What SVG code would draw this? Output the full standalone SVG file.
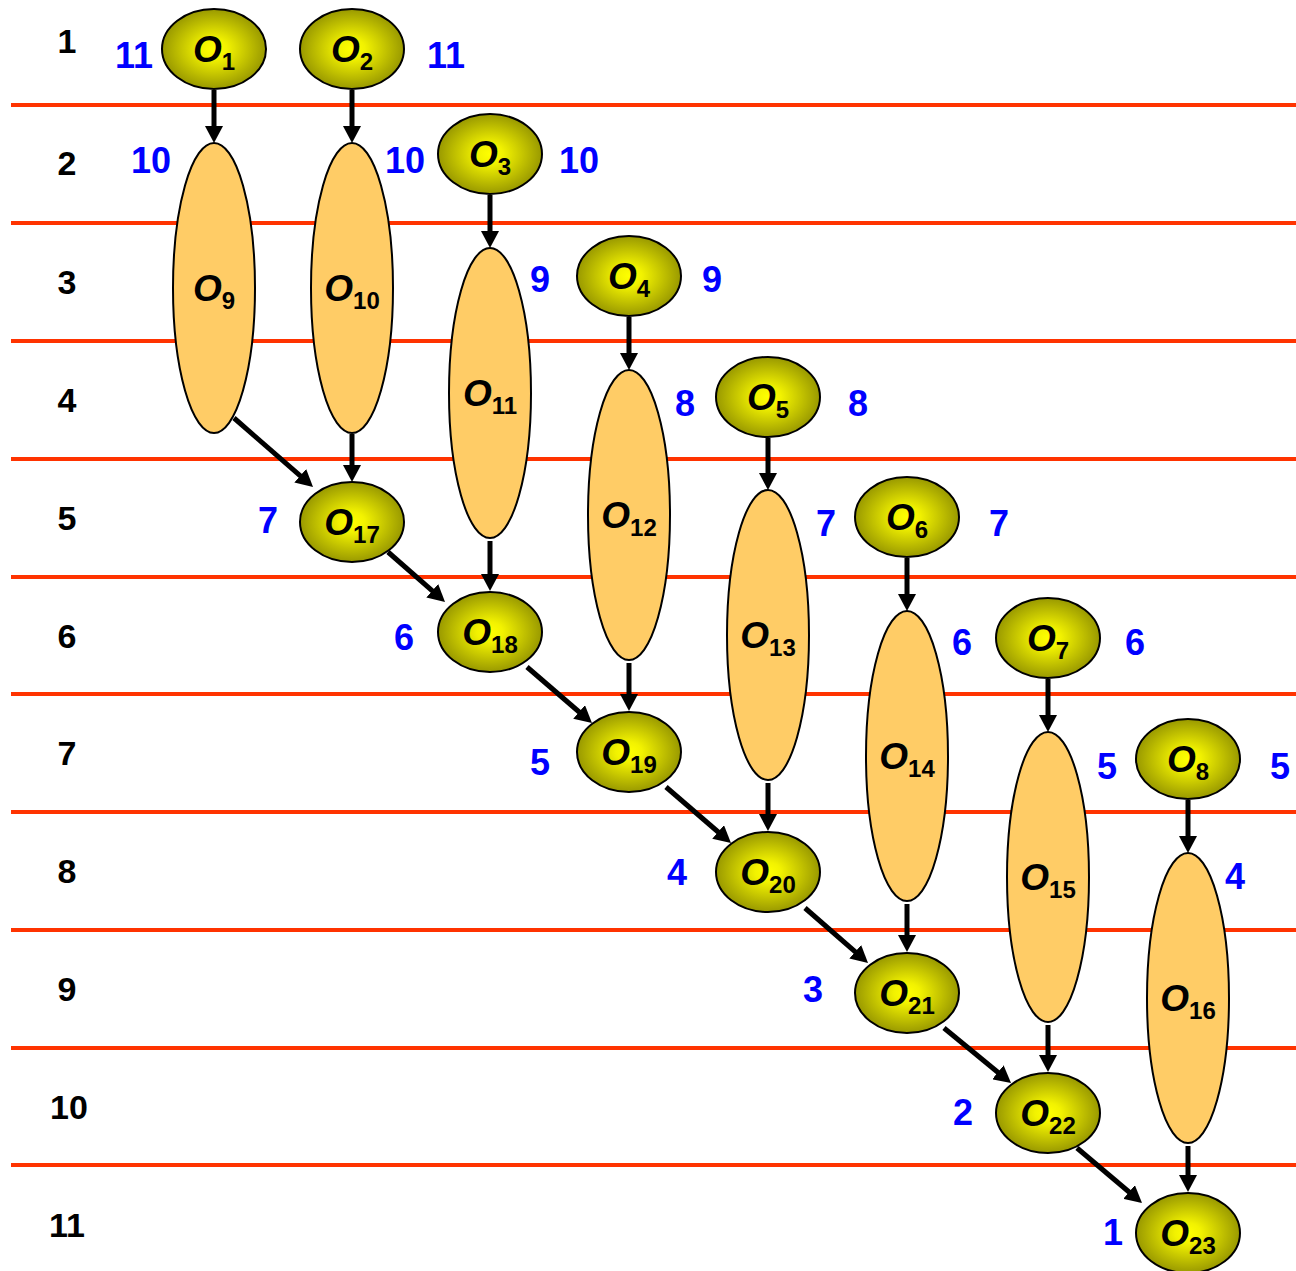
<svg xmlns="http://www.w3.org/2000/svg" width="1296" height="1271" viewBox="0 0 1296 1271">
<style>
.row{stroke:#ff3300;stroke-width:4}
.rn{font-family:"Liberation Sans",Arial,sans-serif;font-weight:bold;font-size:34px;fill:#000;text-anchor:middle}
.bl{font-family:"Liberation Sans",Arial,sans-serif;font-weight:bold;font-size:36px;fill:#0000ff;text-anchor:middle}
.sm{fill:url(#g);stroke:#000;stroke-width:2}
.big{fill:#ffcc66;stroke:#000;stroke-width:2}
.lbl{font-family:"Liberation Sans",Arial,sans-serif;font-weight:bold;font-size:37px;fill:#000;text-anchor:middle}
.o{font-style:italic}
.sub{font-size:24px}
.e{stroke:#000;stroke-width:5;fill:none;marker-end:url(#ah)}
</style>
<defs>
<radialGradient id="g" cx="50%" cy="50%" r="50%">
<stop offset="0" stop-color="#ffff00"/>
<stop offset="0.25" stop-color="#f2f200"/>
<stop offset="1" stop-color="#999900"/>
</radialGradient>
<marker id="ah" markerUnits="userSpaceOnUse" markerWidth="18" markerHeight="18" refX="7" refY="9" orient="auto">
<path d="M0,0 L17,9 L0,18 z" fill="#000"/>
</marker>
</defs>
<rect width="1296" height="1271" fill="#fff"/>
<g id="rows">
<line class="row" x1="11" y1="105" x2="1296" y2="105"/>
<line class="row" x1="11" y1="223" x2="1296" y2="223"/>
<line class="row" x1="11" y1="341" x2="1296" y2="341"/>
<line class="row" x1="11" y1="459" x2="1296" y2="459"/>
<line class="row" x1="11" y1="577" x2="1296" y2="577"/>
<line class="row" x1="11" y1="694" x2="1296" y2="694"/>
<line class="row" x1="11" y1="812" x2="1296" y2="812"/>
<line class="row" x1="11" y1="930" x2="1296" y2="930"/>
<line class="row" x1="11" y1="1048" x2="1296" y2="1048"/>
<line class="row" x1="11" y1="1165" x2="1296" y2="1165"/>
</g>
<g id="row-numbers">
<text class="rn" x="67" y="53">1</text>
<text class="rn" x="67" y="175">2</text>
<text class="rn" x="67" y="294">3</text>
<text class="rn" x="67" y="412">4</text>
<text class="rn" x="67" y="530">5</text>
<text class="rn" x="67" y="648">6</text>
<text class="rn" x="67" y="765">7</text>
<text class="rn" x="67" y="883">8</text>
<text class="rn" x="67" y="1001">9</text>
<text class="rn" x="69" y="1119">10</text>
<text class="rn" x="67" y="1237">11</text>
</g>
<g id="levels">
<text class="bl" x="134" y="68">11</text>
<text class="bl" x="446" y="68">11</text>
<text class="bl" x="151" y="173">10</text>
<text class="bl" x="405" y="173">10</text>
<text class="bl" x="579" y="173">10</text>
<text class="bl" x="540" y="292">9</text>
<text class="bl" x="712" y="292">9</text>
<text class="bl" x="685" y="416">8</text>
<text class="bl" x="858" y="416">8</text>
<text class="bl" x="268" y="533">7</text>
<text class="bl" x="826" y="536">7</text>
<text class="bl" x="999" y="536">7</text>
<text class="bl" x="404" y="650">6</text>
<text class="bl" x="962" y="655">6</text>
<text class="bl" x="1135" y="655">6</text>
<text class="bl" x="540" y="775">5</text>
<text class="bl" x="1107" y="779">5</text>
<text class="bl" x="1280" y="779">5</text>
<text class="bl" x="677" y="885">4</text>
<text class="bl" x="1235" y="889">4</text>
<text class="bl" x="813" y="1002">3</text>
<text class="bl" x="963" y="1125">2</text>
<text class="bl" x="1113" y="1245">1</text>
</g>
<g id="connectors">
<line class="e" x1="214" y1="90" x2="214" y2="133"/>
<line class="e" x1="352" y1="90" x2="352" y2="133"/>
<line class="e" x1="490" y1="195" x2="490" y2="238"/>
<line class="e" x1="629" y1="317" x2="629" y2="360"/>
<line class="e" x1="768" y1="438" x2="768" y2="480"/>
<line class="e" x1="907" y1="558" x2="907" y2="601"/>
<line class="e" x1="1048" y1="679" x2="1048" y2="722"/>
<line class="e" x1="1188" y1="800" x2="1188" y2="843"/>
<line class="e" x1="352" y1="434" x2="352" y2="472"/>
<line class="e" x1="490" y1="541" x2="490" y2="581"/>
<line class="e" x1="629" y1="663" x2="629" y2="701"/>
<line class="e" x1="768" y1="783" x2="768" y2="821"/>
<line class="e" x1="907" y1="904" x2="907" y2="942"/>
<line class="e" x1="1048" y1="1025" x2="1048" y2="1062"/>
<line class="e" x1="1188" y1="1146" x2="1188" y2="1182"/>
<line class="e" x1="234" y1="418" x2="305.5" y2="480.4"/>
<line class="e" x1="388" y1="552" x2="437.5" y2="595.4"/>
<line class="e" x1="527" y1="667" x2="584.4" y2="716.5"/>
<line class="e" x1="666" y1="787" x2="723.4" y2="836.5"/>
<line class="e" x1="805" y1="908" x2="860.5" y2="956.4"/>
<line class="e" x1="944" y1="1028" x2="1003.3" y2="1076.7"/>
<line class="e" x1="1077" y1="1148" x2="1134.4" y2="1196.5"/>
</g>
<g id="O1"><ellipse class="sm" cx="214" cy="49" rx="52" ry="40"/><text class="lbl" x="214" y="62"><tspan class="o">O</tspan><tspan class="sub" dy="8">1</tspan></text></g>
<g id="O2"><ellipse class="sm" cx="352" cy="49" rx="52" ry="40"/><text class="lbl" x="352" y="62"><tspan class="o">O</tspan><tspan class="sub" dy="8">2</tspan></text></g>
<g id="O3"><ellipse class="sm" cx="490" cy="154" rx="52" ry="40"/><text class="lbl" x="490" y="167"><tspan class="o">O</tspan><tspan class="sub" dy="8">3</tspan></text></g>
<g id="O4"><ellipse class="sm" cx="629" cy="276" rx="52" ry="40"/><text class="lbl" x="629" y="289"><tspan class="o">O</tspan><tspan class="sub" dy="8">4</tspan></text></g>
<g id="O5"><ellipse class="sm" cx="768" cy="397" rx="52" ry="40"/><text class="lbl" x="768" y="410"><tspan class="o">O</tspan><tspan class="sub" dy="8">5</tspan></text></g>
<g id="O6"><ellipse class="sm" cx="907" cy="517" rx="52" ry="40"/><text class="lbl" x="907" y="530"><tspan class="o">O</tspan><tspan class="sub" dy="8">6</tspan></text></g>
<g id="O7"><ellipse class="sm" cx="1048" cy="638" rx="52" ry="40"/><text class="lbl" x="1048" y="651"><tspan class="o">O</tspan><tspan class="sub" dy="8">7</tspan></text></g>
<g id="O8"><ellipse class="sm" cx="1188" cy="759" rx="52" ry="40"/><text class="lbl" x="1188" y="772"><tspan class="o">O</tspan><tspan class="sub" dy="8">8</tspan></text></g>
<g id="O9"><ellipse class="big" cx="214" cy="288" rx="41" ry="145"/><text class="lbl" x="214" y="301"><tspan class="o">O</tspan><tspan class="sub" dy="8">9</tspan></text></g>
<g id="O10"><ellipse class="big" cx="352" cy="288" rx="41" ry="145"/><text class="lbl" x="352" y="301"><tspan class="o">O</tspan><tspan class="sub" dy="8">10</tspan></text></g>
<g id="O11"><ellipse class="big" cx="490" cy="393" rx="41" ry="145"/><text class="lbl" x="490" y="406"><tspan class="o">O</tspan><tspan class="sub" dy="8">11</tspan></text></g>
<g id="O12"><ellipse class="big" cx="629" cy="515" rx="41" ry="145"/><text class="lbl" x="629" y="528"><tspan class="o">O</tspan><tspan class="sub" dy="8">12</tspan></text></g>
<g id="O13"><ellipse class="big" cx="768" cy="635" rx="41" ry="145"/><text class="lbl" x="768" y="648"><tspan class="o">O</tspan><tspan class="sub" dy="8">13</tspan></text></g>
<g id="O14"><ellipse class="big" cx="907" cy="756" rx="41" ry="145"/><text class="lbl" x="907" y="769"><tspan class="o">O</tspan><tspan class="sub" dy="8">14</tspan></text></g>
<g id="O15"><ellipse class="big" cx="1048" cy="877" rx="41" ry="145"/><text class="lbl" x="1048" y="890"><tspan class="o">O</tspan><tspan class="sub" dy="8">15</tspan></text></g>
<g id="O16"><ellipse class="big" cx="1188" cy="998" rx="41" ry="145"/><text class="lbl" x="1188" y="1011"><tspan class="o">O</tspan><tspan class="sub" dy="8">16</tspan></text></g>
<g id="O17"><ellipse class="sm" cx="352" cy="522" rx="52" ry="40"/><text class="lbl" x="352" y="535"><tspan class="o">O</tspan><tspan class="sub" dy="8">17</tspan></text></g>
<g id="O18"><ellipse class="sm" cx="490" cy="632" rx="52" ry="40"/><text class="lbl" x="490" y="645"><tspan class="o">O</tspan><tspan class="sub" dy="8">18</tspan></text></g>
<g id="O19"><ellipse class="sm" cx="629" cy="752" rx="52" ry="40"/><text class="lbl" x="629" y="765"><tspan class="o">O</tspan><tspan class="sub" dy="8">19</tspan></text></g>
<g id="O20"><ellipse class="sm" cx="768" cy="872" rx="52" ry="40"/><text class="lbl" x="768" y="885"><tspan class="o">O</tspan><tspan class="sub" dy="8">20</tspan></text></g>
<g id="O21"><ellipse class="sm" cx="907" cy="993" rx="52" ry="40"/><text class="lbl" x="907" y="1006"><tspan class="o">O</tspan><tspan class="sub" dy="8">21</tspan></text></g>
<g id="O22"><ellipse class="sm" cx="1048" cy="1113" rx="52" ry="40"/><text class="lbl" x="1048" y="1126"><tspan class="o">O</tspan><tspan class="sub" dy="8">22</tspan></text></g>
<g id="O23"><ellipse class="sm" cx="1188" cy="1233" rx="52" ry="40"/><text class="lbl" x="1188" y="1246"><tspan class="o">O</tspan><tspan class="sub" dy="8">23</tspan></text></g>
</svg>
